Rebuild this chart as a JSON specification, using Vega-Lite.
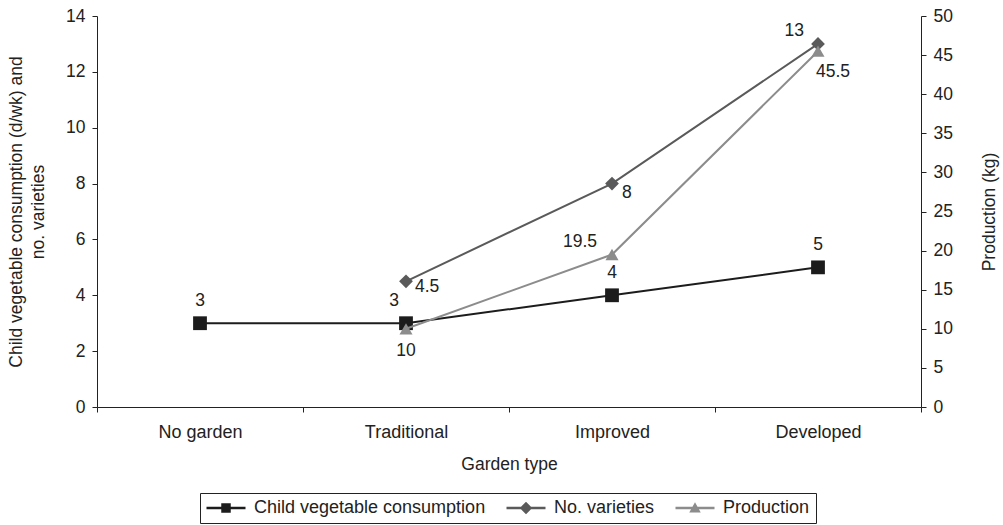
{
  "$schema": "https://vega.github.io/schema/vega-lite/v6.json",
  "width": 824,
  "height": 391,
  "autosize": {"type": "none"},
  "padding": {"left": 97, "top": 16, "right": 82, "bottom": 118},
  "background": "white",
  "config": {
    "font": "Liberation Sans",
    "view": {"stroke": null},
    "axis": {"grid": false, "domainColor": "#222", "tickColor": "#222", "labelColor": "#222", "titleColor": "#222", "labelFontSize": 17.5, "titleFontSize": 17.5, "titleFontWeight": "normal", "tickSize": 5, "labelFont": "Liberation Sans", "titleFont": "Liberation Sans", "labelPadding": 7}
  },
  "data": {"values": [
    {"garden": "No garden", "series": "Child vegetable consumption", "value": 3},
    {"garden": "Traditional", "series": "Child vegetable consumption", "value": 3},
    {"garden": "Improved", "series": "Child vegetable consumption", "value": 4},
    {"garden": "Developed", "series": "Child vegetable consumption", "value": 5},
    {"garden": "Traditional", "series": "No. varieties", "value": 4.5},
    {"garden": "Improved", "series": "No. varieties", "value": 8},
    {"garden": "Developed", "series": "No. varieties", "value": 13},
    {"garden": "Traditional", "series": "Production", "value": 10},
    {"garden": "Improved", "series": "Production", "value": 19.5},
    {"garden": "Developed", "series": "Production", "value": 45.5}
  ]},
  "encoding": {
    "x": {"field": "garden", "type": "nominal", "sort": ["No garden", "Traditional", "Improved", "Developed"],
      "scale": {"paddingInner": 0, "paddingOuter": 0},
      "axis": {"title": "Garden type", "labelAngle": 0, "tickBand": "extent", "labelPadding": 11, "titlePadding": 14, "labelFontSize": 18}}
  },
  "layer": [
    {
      "transform": [{"filter": "datum.series !== 'Production'"}],
      "encoding": {
        "y": {"field": "value", "type": "quantitative",
          "scale": {"domain": [0, 14]},
          "axis": {"title": ["Child vegetable consumption (d/wk) and", "no. varieties"], "values": [0, 2, 4, 6, 8, 10, 12, 14], "titlePadding": 18, "titleLineHeight": 22}}
      },
      "layer": [
        {"transform": [{"filter": "datum.series === 'Child vegetable consumption'"}],
          "mark": {"type": "line", "strokeWidth": 2, "color": "#1c1c1c"}, "encoding": {}},
        {"transform": [{"filter": "datum.series === 'No. varieties'"}],
          "mark": {"type": "line", "strokeWidth": 2, "color": "#5a5a5a"}, "encoding": {}},
        {"transform": [{"filter": "datum.series === 'Child vegetable consumption'"}],
          "mark": {"type": "point", "filled": true, "opacity": 1, "size": 190, "shape": "square", "color": "#1c1c1c"}, "encoding": {}},
        {"transform": [{"filter": "datum.series === 'No. varieties'"}],
          "mark": {"type": "point", "filled": true, "opacity": 1, "size": 190, "shape": "diamond", "color": "#5a5a5a"}, "encoding": {}},
        {"mark": {"type": "point", "filled": true, "opacity": 0},
          "encoding": {
            "color": {"field": "series", "type": "nominal", "scale": {"domain": ["Child vegetable consumption", "No. varieties", "Production"], "range": ["#1c1c1c", "#5a5a5a", "#8c8c8c"]},
              "legend": {"title": null, "orient": "none", "legendX": 103, "legendY": 477, "direction": "horizontal",
                "strokeColor": "#222", "padding": 6, "labelFontSize": 18, "labelColor": "#222", "labelFont": "Liberation Sans", "labelLimit": 400,
                "symbolSize": 100, "symbolStrokeWidth": 0, "symbolOpacity": 1, "columnPadding": 20, "labelOffset": 19, "symbolOffset": 11}},
            "shape": {"field": "series", "type": "nominal", "scale": {"domain": ["Child vegetable consumption", "No. varieties", "Production"],
                "range": ["M-3.9,-0.25H3.9V0.25H-3.9Z M-0.95,-0.95H0.95V0.95H-0.95Z", "M-3.9,-0.25H3.9V0.25H-3.9Z M0,-1.25L1.25,0L0,1.25L-1.25,0Z", "M-3.9,-0.25H3.9V0.25H-3.9Z M0,-1.15L1.15,0.9H-1.15Z"]},
              "legend": {"title": null, "orient": "none", "legendX": 103, "legendY": 477, "direction": "horizontal",
                "strokeColor": "#222", "padding": 6, "labelFontSize": 18, "labelColor": "#222", "labelFont": "Liberation Sans", "labelLimit": 400,
                "symbolSize": 100, "symbolStrokeWidth": 0, "symbolOpacity": 1, "columnPadding": 20, "labelOffset": 19, "symbolOffset": 11}}
          }},
        {"transform": [{"filter": "datum.series === 'Child vegetable consumption' && datum.garden !== 'Traditional'"}],
          "mark": {"type": "text", "fontSize": 17.5, "dy": -22, "color": "#222"},
          "encoding": {"text": {"field": "value"}}},
        {"transform": [{"filter": "datum.series === 'Child vegetable consumption' && datum.garden === 'Traditional'"}],
          "mark": {"type": "text", "fontSize": 17.5, "dy": -22, "dx": -12, "color": "#222"},
          "encoding": {"text": {"field": "value"}}},
        {"transform": [{"filter": "datum.series === 'No. varieties' && datum.garden === 'Traditional'"}],
          "mark": {"type": "text", "fontSize": 17.5, "align": "left", "dx": 9, "dy": 6, "color": "#222"},
          "encoding": {"text": {"field": "value"}}},
        {"transform": [{"filter": "datum.series === 'No. varieties' && datum.garden === 'Improved'"}],
          "mark": {"type": "text", "fontSize": 17.5, "align": "left", "dx": 10, "dy": 9, "color": "#222"},
          "encoding": {"text": {"field": "value"}}},
        {"transform": [{"filter": "datum.series === 'No. varieties' && datum.garden === 'Developed'"}],
          "mark": {"type": "text", "fontSize": 17.5, "align": "right", "dx": -14, "dy": -13, "color": "#222"},
          "encoding": {"text": {"field": "value"}}}
      ]
    },
    {
      "transform": [{"filter": "datum.series === 'Production'"}],
      "encoding": {
        "y": {"field": "value", "type": "quantitative",
          "scale": {"domain": [0, 50]},
          "axis": {"orient": "right", "title": "Production (kg)", "titleAngle": -90, "values": [0, 5, 10, 15, 20, 25, 30, 35, 40, 45, 50], "titlePadding": 46}}
      },
      "layer": [
        {"mark": {"type": "line", "strokeWidth": 2, "color": "#8c8c8c"}, "encoding": {}},
        {"mark": {"type": "point", "filled": true, "opacity": 1, "size": 170, "shape": "triangle-up", "color": "#8c8c8c"}, "encoding": {}},
        {"transform": [{"filter": "datum.garden === 'Traditional'"}],
          "mark": {"type": "text", "fontSize": 17.5, "dy": 22, "color": "#222"},
          "encoding": {"text": {"field": "value"}}},
        {"transform": [{"filter": "datum.garden === 'Improved'"}],
          "mark": {"type": "text", "fontSize": 17.5, "align": "right", "dx": -15, "dy": -13, "color": "#222"},
          "encoding": {"text": {"field": "value"}}},
        {"transform": [{"filter": "datum.garden === 'Developed'"}],
          "mark": {"type": "text", "fontSize": 17.5, "align": "left", "dx": -2, "dy": 21, "color": "#222"},
          "encoding": {"text": {"field": "value"}}}
      ]
    }
  ],
  "resolve": {"scale": {"y": "independent"}}
}
